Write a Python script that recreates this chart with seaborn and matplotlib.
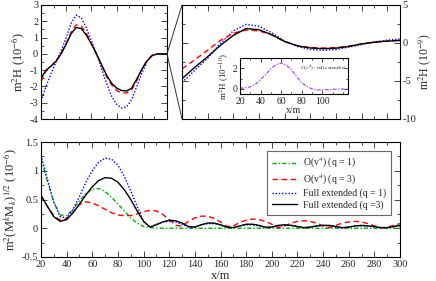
import numpy as np
import pandas as pd
import matplotlib
matplotlib.use("Agg")
import matplotlib.pyplot as plt
from matplotlib.patches import ConnectionPatch
from matplotlib.ticker import MultipleLocator
import seaborn as sns

# ---------------- data ----------------
# top-left panel (m^2 H, 1e-6)
x_tl = [20, 24, 28, 32, 36, 40, 44, 48, 52, 56, 60, 64, 68, 72, 76, 80, 84, 88, 92, 96, 100, 104, 108, 112, 116, 120]
tl_black = [-1.5, -1.0, -0.75, -0.45, 0.0, 0.6, 1.25, 1.62, 1.55, 1.15, 0.6, 0.0, -0.65, -1.3, -1.8, -2.1, -2.25, -2.28, -2.1, -1.55, -0.95, -0.45, -0.12, -0.01, 0.0, 0.0]
tl_red = [-1.7, -1.05, -0.75, -0.42, 0.02, 0.65, 1.35, 1.78, 1.7, 1.27, 0.65, 0.0, -0.7, -1.38, -1.9, -2.25, -2.4, -2.4, -2.2, -1.65, -0.95, -0.42, -0.1, -0.01, 0.0, 0.0]
tl_blue = [-2.9, -2.0, -1.2, -0.5, 0.2, 1.0, 1.9, 2.38, 2.2, 1.6, 0.8, 0.0, -0.9, -1.8, -2.6, -3.1, -3.33, -3.25, -2.8, -2.0, -1.2, -0.5, -0.1, -0.01, 0.0, 0.0]

# top-right (magnified) panel (m^2 H, 1e-9)
x_tr = [100, 110, 120, 130, 140, 150, 160, 170, 180, 190, 200, 210, 220, 230, 240, 250, 260, 270]
tr_black = [-4.7, -3.2, -1.8, -0.3, 1.0, 1.9, 1.75, 1.1, 0.2, -0.38, -0.65, -0.75, -0.68, -0.45, -0.12, 0.1, 0.25, 0.33]
tr_red = [-3.4, -2.2, -0.95, 0.35, 1.3, 1.7, 1.6, 1.05, 0.2, -0.35, -0.6, -0.66, -0.6, -0.42, -0.12, 0.1, 0.25, 0.35]
tr_blue = [-5.2, -3.6, -2.0, -0.05, 1.6, 2.45, 2.2, 1.35, 0.25, -0.45, -0.85, -0.97, -0.85, -0.55, -0.2, 0.15, 0.38, 0.52]

# inset: difference O(v^4) - full extended (1e-10)
x_in = [20, 25, 30, 35, 40, 45, 50, 55, 60, 65, 70, 75, 80, 85, 90, 95, 100, 105, 110, 115, 120, 125]
in_diff = [0.05, 0.1, 0.2, 0.45, 0.9, 1.4, 1.95, 2.35, 2.5, 2.3, 1.85, 1.2, 0.58, 0.25, 0.0, -0.1, -0.1, -0.08, -0.05, -0.03, -0.02, -0.02]
in_xticks = [20, 40, 60, 80, 100]

# bottom panel m^2 (M^k M_k)^{1/2} (1e-6)
x_b = list(range(20, 301, 5))
b_green = [1.2, 0.82, 0.45, 0.23, 0.22, 0.33, 0.48, 0.6, 0.68, 0.69, 0.64, 0.54, 0.42, 0.3, 0.18, 0.09, 0.03, 0.01,
           0.005, 0.0, 0.0, 0.0, 0.0, 0.0, 0.0, 0.0, 0.0, 0.0, 0.0, 0.0, 0.0, 0.0, 0.0, 0.0, 0.0, 0.0, 0.0, 0.0, 0.0,
           0.0, 0.0, 0.0, 0.0, 0.0, 0.0, 0.0, 0.0, 0.0, 0.0, 0.0, 0.0, 0.0, 0.0, 0.0, 0.0, 0.0, 0.0]
b_red = [0.57, 0.38, 0.22, 0.14, 0.17, 0.28, 0.41, 0.46, 0.44, 0.39, 0.33, 0.27, 0.23, 0.22, 0.22, 0.25, 0.29, 0.31,
         0.3, 0.24, 0.15, 0.05, 0.04, 0.12, 0.18, 0.21, 0.21, 0.17, 0.11, 0.03, 0.04, 0.1, 0.14, 0.16, 0.15, 0.12,
         0.07, 0.01, 0.04, 0.09, 0.12, 0.13, 0.12, 0.09, 0.04, 0.01, 0.05, 0.09, 0.11, 0.12, 0.11, 0.08, 0.04, 0.01,
         0.02, 0.05, 0.08]
b_blue = [1.27, 0.85, 0.45, 0.2, 0.18, 0.33, 0.55, 0.8, 1.0, 1.15, 1.22, 1.2, 1.1, 0.9, 0.65, 0.38, 0.12, 0.02,
          0.07, 0.11, 0.12, 0.11, 0.07, 0.02, 0.02, 0.06, 0.08, 0.08, 0.06, 0.02, 0.01, 0.04, 0.06, 0.06, 0.04, 0.01,
          0.02, 0.04, 0.05, 0.05, 0.03, 0.01, 0.02, 0.04, 0.05, 0.04, 0.02, 0.01, 0.02, 0.04, 0.04, 0.04, 0.02, 0.01,
          0.01, 0.03, 0.04]
b_black = [0.57, 0.38, 0.2, 0.12, 0.15, 0.27, 0.42, 0.58, 0.72, 0.83, 0.88, 0.87, 0.8, 0.67, 0.5, 0.3, 0.12, 0.02,
           0.06, 0.11, 0.14, 0.13, 0.09, 0.03, 0.02, 0.06, 0.09, 0.09, 0.06, 0.02, 0.01, 0.04, 0.07, 0.07, 0.05, 0.02,
           0.02, 0.05, 0.06, 0.05, 0.03, 0.01, 0.02, 0.04, 0.05, 0.05, 0.03, 0.01, 0.02, 0.04, 0.05, 0.04, 0.03, 0.01,
           0.01, 0.03, 0.05]

labels = ["O(v$^4$) (q = 1)", "O(v$^4$) (q = 3)", "Full extended (q = 1)", "Full extended (q =3)"]

# ---------------- style ----------------
sns.set_style("ticks")
plt.rcParams['font.family'] = ['Liberation Serif', 'DejaVu Serif']
plt.rcParams['mathtext.fontset'] = 'stix'
plt.rcParams['axes.linewidth'] = 0.8
plt.rcParams['xtick.direction'] = 'in'
plt.rcParams['ytick.direction'] = 'in'

GREEN = '#00b000'
RED = '#ff0000'
BLUE = '#0000ff'
BLACK = '#000000'
VIOLET = '#a64dff'
ls_green = (0, (3, 1.5, 1, 1.5))
ls_red = (0, (4, 2.5))
ls_blue = (0, (1, 1.3))

fig = plt.figure(figsize=(4.36, 2.81), dpi=100)
W, H = 436.0, 281.0
def box(x0, y0, x1, y1):
    return [x0 / W, 1 - y1 / H, (x1 - x0) / W, (y1 - y0) / H]

ax1 = fig.add_axes(box(41, 5, 167, 119))
ax2 = fig.add_axes(box(182, 5, 400, 119))
ax3 = fig.add_axes(box(41, 142, 400, 257))
axi = fig.add_axes(box(240, 58, 348, 94))

def style(ax, fs=7.5):
    ax.tick_params(which='both', direction='in', top=True, right=True, labelsize=fs, pad=2, width=0.6)
    ax.tick_params(which='major', length=4)
    ax.tick_params(which='minor', length=2)
    for s in ax.spines.values():
        s.set_linewidth(0.8)
        s.set_color('black')

def line(ax, x, y, color, ls, lw=1.0, label=None):
    df = pd.DataFrame({'x': x, 'y': y})
    sns.lineplot(data=df, x='x', y='y', ax=ax, color=color, linestyle=ls, linewidth=lw,
                 estimator=None, sort=False, label=label, legend=False)

# top-left
line(ax1, x_tl, tl_blue, BLUE, ls_blue)
line(ax1, x_tl, tl_red, RED, ls_red)
line(ax1, x_tl, tl_black, BLACK, '-')
ax1.set_xlim(20, 120)
ax1.set_ylim(-4, 3)
ax1.xaxis.set_major_locator(MultipleLocator(20))
ax1.xaxis.set_minor_locator(MultipleLocator(10))
ax1.yaxis.set_major_locator(MultipleLocator(1))
ax1.yaxis.set_minor_locator(MultipleLocator(0.5))
style(ax1)
ax1.set_xticklabels([])
ax1.set_xlabel('')
ax1.set_ylabel(r'm$^2$H (10$^{-6}$)', fontsize=9, labelpad=1)

# top-right
line(ax2, x_tr, tr_blue, BLUE, ls_blue)
line(ax2, x_tr, tr_red, RED, ls_red)
line(ax2, x_tr, tr_black, BLACK, '-')
ax2.set_xlim(100, 270)
ax2.set_ylim(-10, 5)
ax2.xaxis.set_major_locator(MultipleLocator(20))
ax2.xaxis.set_minor_locator(MultipleLocator(10))
ax2.yaxis.set_major_locator(MultipleLocator(5))
ax2.yaxis.set_minor_locator(MultipleLocator(2.5))
style(ax2)
ax2.set_xticklabels([])
ax2.set_xlabel('')
ax2.yaxis.tick_right()
ax2.tick_params(which='both', left=True, labelleft=False, labelright=True)
ax2.yaxis.set_label_position('right')
ax2.set_ylabel(r'm$^2$H (10$^{-9}$)', fontsize=8.5, labelpad=0, rotation=90)

# inset
line(axi, x_in, in_diff, VIOLET, (0, (3, 1.2, 1, 1.2)), lw=0.9)
axi.set_xlim(20, 125)
axi.set_ylim(-0.5, 3)
axi.xaxis.set_minor_locator(MultipleLocator(10))
axi.yaxis.set_major_locator(MultipleLocator(2))
axi.yaxis.set_minor_locator(MultipleLocator(1))
style(axi, fs=7)
axi.set_xticks(in_xticks)
axi.set_xticklabels([str(v) for v in in_xticks])
axi.tick_params(which='major', length=3)
axi.tick_params(which='minor', length=1.5)
axi.set_xlabel('x/m', fontsize=7, labelpad=0)
axi.set_ylabel(r'm$^2$H (10$^{-10}$)', fontsize=6.5, labelpad=1)
axi.text(78, 1.9, r'O(v$^4$) - full extended', fontsize=3.8, va='center', ha='left')

# connecting lines
for yb in (1, 0):
    cp = ConnectionPatch(xyA=(120, 0), coordsA=ax1.transData, xyB=(0, yb), coordsB=ax2.transAxes,
                         color='#333333', lw=0.7)
    fig.add_artist(cp)

# bottom
line(ax3, x_b, b_green, GREEN, ls_green, label=labels[0])
line(ax3, x_b, b_red, RED, ls_red, label=labels[1])
line(ax3, x_b, b_blue, BLUE, ls_blue, label=labels[2])
line(ax3, x_b, b_black, BLACK, '-', label=labels[3])
ax3.set_xlim(20, 300)
ax3.set_ylim(-0.5, 1.5)
ax3.xaxis.set_major_locator(MultipleLocator(20))
ax3.xaxis.set_minor_locator(MultipleLocator(10))
ax3.yaxis.set_major_locator(MultipleLocator(0.5))
ax3.yaxis.set_minor_locator(MultipleLocator(0.25))
style(ax3)
ax3.set_yticks([-0.5, 0, 0.5, 1, 1.5])
ax3.set_yticklabels(['-0.5', '0', '0.5', '1', '1.5'])
ax3.set_xlabel('x/m', fontsize=9, labelpad=1)
ax3.set_ylabel(r'm$^2$(M$^k$M$_k$)$^{1/2}$ (10$^{-6}$)', fontsize=9, labelpad=1)
leg = ax3.legend(loc='upper right', bbox_to_anchor=(0.975, 0.92), fontsize=7, frameon=True, fancybox=False,
                 handlelength=2.6, handletextpad=0.6, labelspacing=0.2, borderpad=0.5, borderaxespad=0)
leg.get_frame().set_edgecolor('#444444')
leg.get_frame().set_linewidth(0.8)

ax1.set_yticks([-4, -3, -2, -1, 0, 1, 2, 3])
ax1.set_yticklabels(['-4', '-3', '-2', '-1', '0', '1', '2', '3'])
ax2.set_yticks([-10, -5, 0, 5])
ax2.set_yticklabels(['-10', '-5', '0', '5'])

fig.savefig('out.png', dpi=100)
